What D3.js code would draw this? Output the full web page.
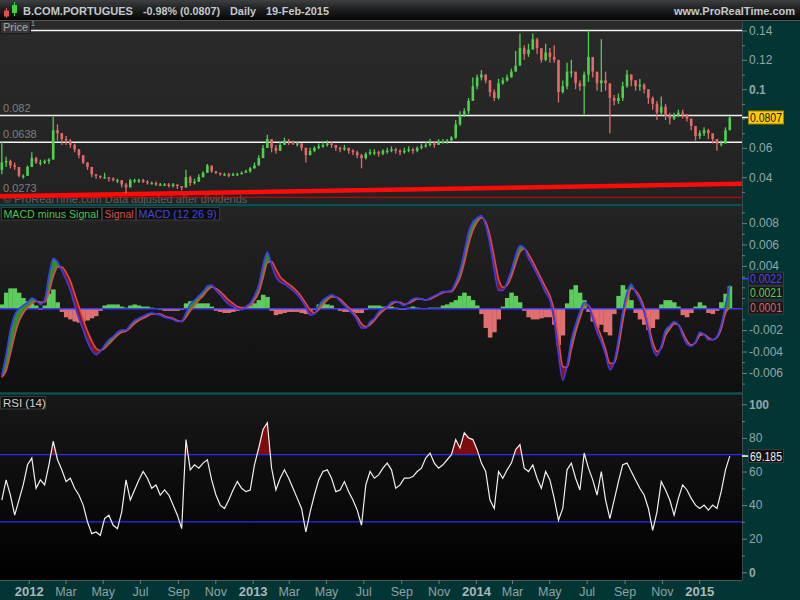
<!DOCTYPE html>
<html><head><meta charset="utf-8">
<script src="https://cdn.jsdelivr.net/npm/d3@7"></script>
<style>body{margin:0;background:#000;}svg{display:block;font-family:"Liberation Sans",Arial,sans-serif;}</style>
</head><body><svg id="c" width="800" height="600"></svg>
<script>
// ---------- DATA (weekly samples) ----------
const firstWeek = "2011-11-18";
const closeP = [0.050,0.051,0.048,0.047,0.041,0.041,0.047,0.053,0.050,0.050,
0.051,0.052,0.072,0.070,0.066,0.065,0.062,0.059,0.055,0.050,
0.047,0.042,0.041,0.040,0.040,0.039,0.038,0.038,0.035,0.033,
0.038,0.038,0.038,0.037,0.036,0.036,0.035,0.035,0.035,0.034,
0.035,0.034,0.033,0.040,0.036,0.037,0.040,0.043,0.048,0.044,
0.043,0.042,0.042,0.041,0.042,0.042,0.043,0.044,0.046,0.048,
0.053,0.060,0.066,0.060,0.058,0.062,0.065,0.064,0.063,0.063,
0.060,0.055,0.058,0.060,0.061,0.062,0.063,0.062,0.060,0.059,
0.060,0.058,0.057,0.055,0.053,0.056,0.057,0.057,0.056,0.058,
0.058,0.059,0.058,0.057,0.058,0.059,0.058,0.060,0.061,0.062,
0.063,0.062,0.064,0.064,0.065,0.067,0.076,0.082,0.085,0.092,
0.102,0.108,0.110,0.106,0.098,0.094,0.104,0.106,0.108,0.112,
0.116,0.128,0.124,0.127,0.134,0.128,0.120,0.125,0.122,0.120,
0.098,0.102,0.112,0.112,0.104,0.102,0.110,0.122,0.112,0.104,
0.106,0.104,0.094,0.092,0.094,0.102,0.110,0.106,0.102,0.103,
0.100,0.094,0.090,0.084,0.088,0.082,0.080,0.082,0.084,0.083,
0.080,0.075,0.068,0.070,0.072,0.070,0.066,0.063,0.063,0.072,0.0807];
const highP = [0.064,0.054,0.052,0.050,0.046,0.042,0.048,0.057,0.054,0.052,
0.052,0.053,0.081,0.076,0.070,0.068,0.066,0.063,0.059,0.055,
0.050,0.046,0.042,0.041,0.043,0.040,0.040,0.039,0.037,0.036,
0.039,0.039,0.039,0.039,0.038,0.037,0.037,0.036,0.036,0.036,
0.036,0.035,0.034,0.045,0.041,0.039,0.042,0.044,0.049,0.047,
0.044,0.043,0.043,0.043,0.043,0.043,0.044,0.045,0.047,0.050,
0.055,0.062,0.069,0.065,0.062,0.064,0.067,0.066,0.065,0.064,
0.063,0.060,0.060,0.061,0.063,0.064,0.065,0.064,0.062,0.061,
0.062,0.060,0.059,0.058,0.056,0.057,0.059,0.059,0.058,0.059,
0.060,0.061,0.060,0.059,0.060,0.061,0.060,0.061,0.063,0.064,
0.066,0.064,0.066,0.066,0.066,0.068,0.079,0.085,0.087,0.094,
0.108,0.110,0.113,0.110,0.106,0.100,0.107,0.108,0.110,0.114,
0.126,0.138,0.130,0.131,0.138,0.135,0.125,0.131,0.128,0.130,
0.115,0.106,0.118,0.120,0.108,0.106,0.112,0.140,0.120,0.108,
0.134,0.112,0.100,0.096,0.097,0.105,0.113,0.110,0.106,0.107,
0.104,0.097,0.095,0.092,0.095,0.090,0.084,0.084,0.086,0.086,
0.083,0.079,0.074,0.072,0.074,0.073,0.069,0.066,0.065,0.074,0.0815];
const lowP = [0.042,0.047,0.046,0.045,0.040,0.039,0.041,0.047,0.049,0.048,
0.049,0.049,0.052,0.065,0.062,0.062,0.060,0.057,0.053,0.049,
0.045,0.040,0.039,0.039,0.039,0.037,0.037,0.036,0.033,0.029,
0.034,0.036,0.036,0.036,0.035,0.035,0.034,0.034,0.034,0.033,
0.033,0.032,0.031,0.033,0.034,0.035,0.037,0.040,0.043,0.043,
0.042,0.041,0.041,0.040,0.041,0.041,0.042,0.043,0.043,0.046,
0.048,0.054,0.060,0.057,0.056,0.058,0.062,0.062,0.062,0.061,
0.058,0.050,0.055,0.057,0.059,0.060,0.061,0.060,0.058,0.057,
0.058,0.056,0.055,0.053,0.046,0.052,0.055,0.055,0.054,0.055,
0.056,0.057,0.056,0.055,0.056,0.057,0.056,0.057,0.059,0.060,
0.061,0.060,0.062,0.063,0.063,0.065,0.066,0.075,0.081,0.083,
0.093,0.100,0.106,0.104,0.095,0.092,0.093,0.103,0.105,0.108,
0.112,0.118,0.120,0.122,0.128,0.124,0.118,0.119,0.118,0.118,
0.091,0.097,0.100,0.108,0.100,0.099,0.083,0.105,0.108,0.099,
0.098,0.099,0.070,0.089,0.090,0.092,0.101,0.102,0.099,0.099,
0.097,0.090,0.086,0.079,0.082,0.079,0.076,0.079,0.081,0.080,
0.078,0.072,0.065,0.066,0.068,0.066,0.063,0.058,0.061,0.063,0.072];
const macdLine = [-0.0062,-0.0043,-0.0020,-0.0006,0.0000,0.0003,0.0006,0.0010,0.0008,0.0004,
0.0008,0.0031,0.0047,0.0044,0.0036,0.0027,0.0017,0.0003,-0.0009,-0.0020,
-0.0031,-0.0039,-0.0043,-0.0040,-0.0034,-0.0029,-0.0026,-0.0022,-0.0020,-0.0020,
-0.0015,-0.0011,-0.0009,-0.0007,-0.0005,-0.0004,-0.0005,-0.0006,-0.0008,-0.0009,
-0.0010,-0.0012,-0.0012,-0.0004,0.0004,0.0008,0.0012,0.0016,0.0021,0.0022,
0.0017,0.0013,0.0008,0.0004,0.0002,0.0000,-0.0001,0.0002,0.0005,0.0012,
0.0022,0.0041,0.0053,0.0041,0.0030,0.0025,0.0023,0.0020,0.0017,0.0013,
0.0008,0.0001,-0.0006,-0.0005,0.0003,0.0008,0.0011,0.0013,0.0011,0.0007,
0.0003,-0.0001,-0.0005,-0.0011,-0.0018,-0.0018,-0.0012,-0.0009,-0.0003,0.0000,
0.0002,0.0006,0.0007,0.0005,0.0003,0.0006,0.0009,0.0010,0.0009,0.0008,
0.0010,0.0012,0.0014,0.0016,0.0016,0.0017,0.0025,0.0036,0.0053,0.0072,
0.0081,0.0085,0.0087,0.0078,0.0060,0.0036,0.0017,0.0017,0.0025,0.0036,
0.0050,0.0059,0.0057,0.0047,0.0040,0.0032,0.0024,0.0015,0.0008,-0.0011,
-0.0043,-0.0067,-0.0053,-0.0029,-0.0015,-0.0003,0.0006,0.0003,-0.0009,-0.0022,
-0.0031,-0.0043,-0.0057,-0.0050,-0.0029,-0.0003,0.0015,0.0023,0.0015,0.0008,
-0.0003,-0.0020,-0.0037,-0.0044,-0.0035,-0.0020,-0.0016,-0.0012,-0.0015,-0.0025,
-0.0033,-0.0035,-0.0031,-0.0022,-0.0024,-0.0029,-0.0029,-0.0026,-0.0015,0.0003,0.0022];
const signalLine = [-0.0064,-0.0058,-0.0042,-0.0025,-0.0012,-0.0004,0.0001,0.0005,0.0007,0.0006,
0.0006,0.0015,0.0030,0.0039,0.0039,0.0034,0.0026,0.0014,0.0002,-0.0010,
-0.0021,-0.0030,-0.0037,-0.0039,-0.0037,-0.0033,-0.0029,-0.0025,-0.0022,-0.0021,
-0.0018,-0.0014,-0.0011,-0.0009,-0.0007,-0.0005,-0.0005,-0.0005,-0.0007,-0.0008,
-0.0009,-0.0011,-0.0012,-0.0008,-0.0002,0.0003,0.0008,0.0012,0.0017,0.0020,
0.0019,0.0016,0.0012,0.0008,0.0005,0.0002,0.0001,0.0001,0.0003,0.0008,
0.0015,0.0029,0.0043,0.0044,0.0037,0.0030,0.0026,0.0023,0.0020,0.0016,
0.0011,0.0005,-0.0001,-0.0004,-0.0001,0.0004,0.0008,0.0011,0.0011,0.0009,
0.0005,0.0001,-0.0003,-0.0008,-0.0014,-0.0017,-0.0015,-0.0011,-0.0006,-0.0002,
0.0001,0.0004,0.0006,0.0006,0.0004,0.0005,0.0007,0.0009,0.0009,0.0008,
0.0009,0.0011,0.0013,0.0015,0.0016,0.0016,0.0021,0.0029,0.0043,0.0060,
0.0073,0.0081,0.0085,0.0081,0.0068,0.0048,0.0028,0.0020,0.0022,0.0030,
0.0042,0.0053,0.0056,0.0051,0.0044,0.0036,0.0028,0.0020,0.0012,-0.0002,
-0.0028,-0.0054,-0.0055,-0.0038,-0.0022,-0.0009,0.0002,0.0003,-0.0005,-0.0016,
-0.0026,-0.0038,-0.0051,-0.0051,-0.0036,-0.0012,0.0008,0.0019,0.0017,0.0011,
0.0001,-0.0015,-0.0031,-0.0040,-0.0037,-0.0025,-0.0019,-0.0014,-0.0015,-0.0022,
-0.0030,-0.0034,-0.0032,-0.0025,-0.0024,-0.0027,-0.0029,-0.0027,-0.0019,-0.0004,0.0001];
const macdHist = [0.0004,0.0015,0.0019,0.0019,0.0015,0.0010,0.0007,0.0005,0.0003,-0.0001,
0.0003,0.0014,0.0018,0.0006,-0.0003,-0.0008,-0.0010,-0.0012,-0.0013,-0.0012,
-0.0011,-0.0009,-0.0007,-0.0002,0.0003,0.0004,0.0004,0.0004,0.0002,0.0001,
0.0003,0.0004,0.0003,0.0002,0.0002,0.0001,0.0000,-0.0001,-0.0002,-0.0002,
-0.0002,-0.0002,-0.0001,0.0005,0.0007,0.0006,0.0005,0.0005,0.0005,0.0002,
-0.0002,-0.0003,-0.0004,-0.0004,-0.0003,-0.0002,-0.0001,0.0001,0.0003,0.0005,
0.0008,0.0013,0.0011,-0.0002,-0.0006,-0.0005,-0.0004,-0.0003,-0.0003,-0.0003,
-0.0004,-0.0005,-0.0005,-0.0001,0.0004,0.0005,0.0004,0.0003,0.0000,-0.0002,
-0.0003,-0.0003,-0.0003,-0.0004,-0.0004,-0.0001,0.0003,0.0003,0.0003,0.0002,
0.0002,0.0002,0.0001,-0.0001,-0.0001,0.0001,0.0002,0.0001,0.0000,0.0000,
0.0001,0.0001,0.0001,0.0003,0.0004,0.0006,0.0008,0.0012,0.0015,0.0012,
0.0008,0.0003,-0.0005,-0.0018,-0.0027,-0.0022,-0.0010,0.0002,0.0010,0.0015,
0.0012,0.0006,-0.0002,-0.0008,-0.0010,-0.0010,-0.0009,-0.0008,-0.0008,-0.0015,
-0.0034,-0.0025,0.0005,0.0018,0.0022,0.0015,0.0008,-0.0003,-0.0012,-0.0018,
-0.0015,-0.0022,-0.0025,-0.0005,0.0012,0.0022,0.0018,0.0008,-0.0004,-0.0010,
-0.0015,-0.0020,-0.0018,-0.0010,0.0004,0.0008,0.0008,0.0006,0.0002,-0.0006,
-0.0008,-0.0004,0.0002,0.0006,0.0003,-0.0004,-0.0005,-0.0002,0.0006,0.0014,0.0021];
const rsiLine = [43,55,46,34,43,52,64,68,50,55,
52,64,78,67,61,54,56,50,46,40,
30,23,24,22,32,34,28,26,36,55,
43,49,55,60,56,50,52,46,49,46,
40,34,26,79,61,64,62,65,67,55,
46,40,38,43,49,54,50,48,49,64,
74,85,89,62,49,56,61,56,50,44,
38,24,36,46,55,60,61,56,48,49,
54,48,43,37,28,52,60,56,58,62,
65,61,50,52,56,56,57,60,62,68,
71,65,62,64,67,70,79,74,83,80,
79,73,65,60,43,38,60,56,61,65,
73,76,62,60,64,56,50,60,55,44,
31,38,61,65,56,49,71,62,55,46,
60,43,32,43,54,64,65,60,55,50,
46,38,25,36,54,49,43,34,44,52,
49,44,40,38,40,37,40,38,48,61,69.185];
const priceTicks = [0.04,0.06,0.1,0.12,0.14];
const priceMinor = [0.03,0.05,0.07,0.08,0.09,0.11,0.13];
const priceLevels = [0.082,0.0638];
const levelLabels = ["0.082","0.0638","0.0273"];
const levelLabelVals = [0.082,0.0638,0.0273];
const topLevel = 0.14;
const trendEnds = [0.0270,0.0355];
const supportLine = 0.0263;
const macdTicks = [-0.006,-0.004,-0.002,0.004,0.006,0.008];
const macdMinor = [-0.007,-0.005,-0.003,-0.001,0.001,0.002,0.003,0.005,0.007,0.009];
const rsiTicks = [0,20,40,60,80,100];
const rsiMinor = [10,30,50,70,90];
const rsiLevels = [70,30];
const monthTicks = ["2012-01-01","2012-03-01","2012-05-01","2012-07-01","2012-09-01","2012-11-01",
"2013-01-01","2013-03-01","2013-05-01","2013-07-01","2013-09-01","2013-11-01",
"2014-01-01","2014-03-01","2014-05-01","2014-07-01","2014-09-01","2014-11-01","2015-01-01"];
const title = ["B.COM.PORTUGUES","-0.98% (0.0807)","Daily","19-Feb-2015"];
const lastPrice = "0.0807", lastMacd = "0.0022", lastHist = "0.0021", lastSignal = "0.0001", lastRsi = "69.185";

// ---------- LAYOUT ----------
const svg = d3.select("#c");
const W = 800, H = 600, PR = 742;
const P = {top:21, bot:204}, M = {top:207, bot:392}, R = {top:395, bot:580};
const parse = d3.timeParse("%Y-%m-%d");
const dates = closeP.map((d,i)=>d3.timeWeek.offset(parse(firstWeek), i));
const x = d3.scaleTime().domain([parse("2011-11-15"), parse("2015-03-12")]).range([0, PR]);
const yP = d3.scaleLinear().domain([0.04,0.14]).range([177.2,30.5]);
const yM = d3.scaleLinear().domain([-0.006,0.008]).range([372.9,223.1]);
const yR = d3.scaleLinear().domain([0,100]).range([572.3,404.3]);
const step = x(dates[1]) - x(dates[0]);

const defs = svg.append("defs");
function grad(id, stops){
  const g = defs.append("linearGradient").attr("id",id).attr("x1",0).attr("x2",0).attr("y1",0).attr("y2",1);
  stops.forEach(s=>g.append("stop").attr("offset",s[0]).attr("stop-color",s[1]));
}
grad("hdr",[[0,"#3d3f40"],[0.5,"#1c1d1e"],[1,"#050505"]]);
grad("pBg",[[0,"#2a2a2a"],[1,"#222"]]);
grad("mBg",[[0,"#242424"],[1,"#0f0f0f"]]);
grad("rBg",[[0,"#181818"],[1,"#000"]]);
function clip(id, r){ defs.append("clipPath").attr("id",id).append("rect").attr("x",0).attr("y",r.top).attr("width",PR).attr("height",r.bot-r.top); }
clip("cp",P); clip("cm",M); clip("cr",R);

svg.append("rect").attr("width",W).attr("height",H).attr("fill","#033535");
// header
svg.append("rect").attr("width",W).attr("height",20).attr("fill","url(#hdr)");
svg.append("line").attr("x1",0).attr("x2",W).attr("y1",20.5).attr("y2",20.5).attr("stroke","#555");
// icon
const ic = svg.append("g");
ic.append("line").attr("x1",6.5).attr("x2",6.5).attr("y1",8).attr("y2",18).attr("stroke","#e05050");
ic.append("rect").attr("x",4).attr("y",10.5).attr("width",5).attr("height",6).attr("fill","#e05050");
ic.append("line").attr("x1",14.5).attr("x2",14.5).attr("y1",2).attr("y2",16).attr("stroke","#40d040");
ic.append("rect").attr("x",12).attr("y",5).attr("width",5).attr("height",8).attr("fill","#40d040");
const tx = [[23,110],[143,77],[230,26],[266,63]];
title.forEach((t,i)=>svg.append("text").attr("x",tx[i][0]).attr("y",14.5).attr("fill","#c3c9cc")
  .attr("font-size",11.5).attr("font-weight","bold").attr("textLength",tx[i][1]).attr("lengthAdjust","spacingAndGlyphs").text(t));
svg.append("text").attr("x",674).attr("y",14.5).attr("fill","#c3c9cc")
  .attr("font-size",11.5).attr("font-weight","bold").attr("textLength",121).attr("lengthAdjust","spacingAndGlyphs").text("www.ProRealTime.com");

// panel backgrounds
svg.append("rect").attr("x",0).attr("y",P.top).attr("width",PR).attr("height",P.bot-P.top).attr("fill","url(#pBg)");
svg.append("rect").attr("x",0).attr("y",M.top).attr("width",PR).attr("height",M.bot-M.top).attr("fill","url(#mBg)");
svg.append("rect").attr("x",0).attr("y",R.top).attr("width",PR).attr("height",R.bot-R.top).attr("fill","url(#rBg)");
[P.bot+1, M.bot+1.5].forEach(yy=>svg.append("line").attr("x1",0).attr("x2",PR).attr("y1",yy).attr("y2",yy).attr("stroke","#0e5050").attr("stroke-width",2));
svg.append("line").attr("x1",PR+0.5).attr("x2",PR+0.5).attr("y1",21).attr("y2",R.bot).attr("stroke","#3a4a4a");

// ---------- PRICE PANEL ----------
const gp = svg.append("g").attr("clip-path","url(#cp)");
gp.append("text").attr("x",3).attr("y",yP(0.0273)+7).attr("fill","#5e6262").attr("font-size",11)
  .text("\u00A9 ProRealTime.com  Data adjusted after dividends");
gp.append("line").attr("x1",x(parse("2011-11-15"))).attr("x2",x(parse("2015-03-12")))
  .attr("y1",yP(supportLine)).attr("y2",yP(supportLine)).attr("stroke","#e00000").attr("stroke-width",1);
gp.append("line").attr("x1",x(parse("2011-11-15"))).attr("x2",x(parse("2015-03-12")))
  .attr("y1",yP(trendEnds[0])).attr("y2",yP(trendEnds[1])).attr("stroke","#ff0a0a").attr("stroke-width",4.5);
gp.append("line").attr("x1",31).attr("x2",PR).attr("y1",yP(topLevel)).attr("y2",yP(topLevel)).attr("stroke","#f4f4f4").attr("stroke-width",1.5);
priceLevels.forEach(v=>gp.append("line").attr("x1",0).attr("x2",PR).attr("y1",yP(v)).attr("y2",yP(v)).attr("stroke","#f4f4f4").attr("stroke-width",1.5));
levelLabels.forEach((t,i)=>gp.append("text").attr("x",3).attr("y",yP(levelLabelVals[i])-4).attr("fill","#7b8080").attr("font-size",11).text(t));
const bars = gp.append("g");
closeP.forEach((c,i)=>{
  const o = i>0 ? closeP[i-1] : lowP[0]+0.003;
  const col = c>=o ? "#4fd14f" : "#e36a6a";
  const cx = x(dates[i]);
  bars.append("line").attr("x1",cx).attr("x2",cx).attr("y1",yP(highP[i])).attr("y2",yP(lowP[i])).attr("stroke",col).attr("stroke-width",1.3);
  const y0 = yP(Math.max(o,c)), y1 = yP(Math.min(o,c));
  bars.append("rect").attr("x",cx-1.3).attr("y",y0).attr("width",2.6).attr("height",Math.max(1.2,y1-y0)).attr("fill",col);
});
// Price legend
svg.append("rect").attr("x",0.5).attr("y",21.5).attr("width",30).attr("height",12).attr("fill","#383838").attr("stroke","#1a1a1a");
svg.append("text").attr("x",3).attr("y",31).attr("fill","#a8a8a8").attr("font-size",11).text("Price");
svg.append("text").attr("x",31).attr("y",26).attr("fill","#a8a8a8").attr("font-size",7).text("1");

// ---------- MACD PANEL ----------
const gm = svg.append("g").attr("clip-path","url(#cm)");
gm.append("g").selectAll("rect").data(macdHist).join("rect")
  .attr("x",(d,i)=>x(dates[i])-step/2).attr("width",step+0.3)
  .attr("y",d=>Math.min(yM(d),yM(0))).attr("height",d=>Math.abs(yM(d)-yM(0)))
  .attr("fill",d=>d>=0?"#5ccc5c":"#e07070");
gm.append("line").attr("x1",0).attr("x2",PR).attr("y1",yM(0)).attr("y2",yM(0)).attr("stroke","#3b3bff").attr("stroke-width",1.5);
const band = gm.append("g");
for(let i=0;i<macdLine.length-1;i++){
  const dd = (macdLine[i]-signalLine[i])+(macdLine[i+1]-signalLine[i+1]);
  const pts = [[x(dates[i]),yM(macdLine[i])],[x(dates[i+1]),yM(macdLine[i+1])],[x(dates[i+1]),yM(signalLine[i+1])],[x(dates[i]),yM(signalLine[i])]];
  band.append("path").attr("d","M"+pts.join("L")+"Z").attr("fill",dd>=0?"#2f8f2f":"#8a1818").attr("stroke",dd>=0?"#2f8f2f":"#8a1818").attr("stroke-width",0.6);
}
const lineM = d3.line().x((d,i)=>x(dates[i])).y(d=>yM(d)).curve(d3.curveMonotoneX);
gm.append("path").attr("d",lineM(signalLine)).attr("fill","none").attr("stroke","#e04848").attr("stroke-width",1.6);
gm.append("path").attr("d",lineM(macdLine)).attr("fill","none").attr("stroke","#3a3af0").attr("stroke-width",1.6);
// legend
const legM = [["MACD minus Signal","#4cc44c",1,101,95],["Signal","#d45252",102,135,29],["MACD (12 26 9)","#4646e0",136,219,78]];
legM.forEach(l=>{
  svg.append("rect").attr("x",l[2]+0.5).attr("y",M.top+0.5).attr("width",l[3]-l[2]).attr("height",12.5).attr("fill","#0d0d0d").attr("stroke","#3a3a3a");
  svg.append("text").attr("x",l[2]+2.5).attr("y",M.top+10.5).attr("fill",l[1]).attr("font-size",11.5)
    .attr("textLength",l[4]).attr("lengthAdjust","spacingAndGlyphs").text(l[0]);
});

// ---------- RSI PANEL ----------
const gr = svg.append("g").attr("clip-path","url(#cr)");
defs.append("clipPath").attr("id","above70").append("rect").attr("x",0).attr("y",R.top).attr("width",PR).attr("height",yR(70)-R.top);
const lineR = d3.line().x((d,i)=>x(dates[i])).y(d=>yR(d));
const areaR = d3.area().x((d,i)=>x(dates[i])).y0(yR(70)).y1(d=>yR(d));
gr.append("path").attr("d",areaR(rsiLine)).attr("fill","#7e0c0c").attr("clip-path","url(#above70)");
rsiLevels.forEach(v=>gr.append("line").attr("x1",0).attr("x2",PR).attr("y1",yR(v)).attr("y2",yR(v)).attr("stroke","#2a2aff").attr("stroke-width",1.2));
gr.append("path").attr("d",lineR(rsiLine)).attr("fill","none").attr("stroke","#f0f0f0").attr("stroke-width",1.2);
svg.append("rect").attr("x",0.5).attr("y",R.top+1.5).attr("width",45).attr("height",12.5).attr("fill","#111").attr("stroke","#3a3a3a");
svg.append("text").attr("x",3).attr("y",R.top+12).attr("fill","#d0d0d0").attr("font-size",11.5).text("RSI (14)");

// ---------- AXES ----------
function rightAxis(scale, ticks, minor, fmt, boldSet){
  const g = svg.append("g").attr("transform",`translate(${PR},0)`);
  g.call(d3.axisRight(scale).tickValues(minor).tickSize(3).tickFormat(""));
  const g2 = svg.append("g").attr("transform",`translate(${PR},0)`);
  g2.call(d3.axisRight(scale).tickValues(ticks).tickSize(5).tickPadding(2).tickFormat(fmt));
  [g,g2].forEach(a=>{a.select(".domain").remove(); a.selectAll("line").attr("stroke","#6b7e7e");});
  g2.selectAll("text").attr("fill","#93a5a5").attr("font-size",12).attr("font-family","Liberation Sans, Arial, sans-serif")
    .attr("font-weight",d=>boldSet.includes(d)?"bold":"normal");
}
rightAxis(yP, priceTicks, priceMinor, d=>d3.format("")(+d.toFixed(2)), [0.1]);
rightAxis(yM, macdTicks, macdMinor, d=>d3.format(".3f")(d).replace("\u2212","-"), []);
rightAxis(yR, rsiTicks, rsiMinor, d=>String(d), [0,100]);

const xa = svg.append("g").attr("transform",`translate(0,${R.bot})`);
xa.call(d3.axisBottom(x).tickValues(monthTicks.map(parse)).tickSize(4).tickPadding(3)
  .tickFormat(d=>d.getMonth()===0? d3.timeFormat("%Y")(d) : d3.timeFormat("%b")(d)));
xa.select(".domain").attr("stroke","#4a5a5a").attr("d",`M0,0.5H${PR}`);
xa.selectAll("line").attr("stroke","#6b7e7e");
xa.selectAll("text").attr("fill",d=>d.getMonth()===0?"#a9b8b8":"#8fa2a2").attr("font-size",d=>d.getMonth()===0?13:12.5)
  .attr("font-weight",d=>d.getMonth()===0?"bold":"normal").attr("font-family","Liberation Sans, Arial, sans-serif");

// value tags
function tag(yy, txt, bg, fg, border, tick){
  svg.append("line").attr("x1",PR).attr("x2",PR+6).attr("y1",yy).attr("y2",yy).attr("stroke",tick).attr("stroke-width",1.5);
  svg.append("rect").attr("x",748.5).attr("y",yy-6.5).attr("width",35).attr("height",13).attr("fill",bg).attr("stroke",border);
  svg.append("text").attr("x",750).attr("y",yy+4.5).attr("fill",fg).attr("font-size",12)
    .attr("textLength",txt.length>5?32:30).attr("lengthAdjust","spacingAndGlyphs").text(txt);
}
tag(yP(+lastPrice), lastPrice, "#ffcc00", "#111", "#a08000", "#ffffff");
tag(yM(+lastMacd)-6.5, lastMacd, "#181818", "#4848f0", "#3c3c3c", "#4848f0");
tag(yM(+lastHist)+6.5, lastHist, "#181818", "#56d456", "#3c3c3c", "none");
tag(yM(+lastSignal), lastSignal, "#181818", "#e06060", "#3c3c3c", "none");
tag(yR(+lastRsi), lastRsi, "#111", "#f0f0f0", "#3c3c3c", "#ffffff");
</script></body></html>
